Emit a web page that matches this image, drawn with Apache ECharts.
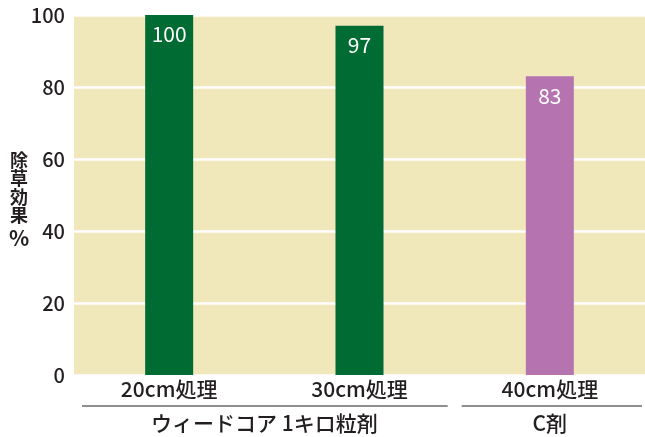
<!DOCTYPE html>
<html><head><meta charset="utf-8">
<script src="https://cdn.jsdelivr.net/npm/echarts@6/dist/echarts.min.js"></script>
<style>html,body{margin:0;padding:0;background:#fff}#c{width:645px;height:437px}</style>
</head><body><div id="c"></div>
<script>
var categories = ['20cm処理', '30cm処理', '40cm処理'];
var values = [100, 97, 83];
var barColors = ['#006B33', '#006B33', '#B574B0'];
var groups = [
  { name: 'ウィードコア 1キロ粒剤', from: 0, to: 1 },
  { name: 'C剤', from: 2, to: 2 }
];
var yTitle = ['除', '草', '効', '果', '%'];
var font = '"Noto Sans CJK JP", "Noto Sans", sans-serif';

var chart = echarts.init(document.getElementById('c'));
var option = {
  animation: false,
  grid: { left: 74, right: 0, top: 15, bottom: 62, show: true, backgroundColor: '#F0E7BB', borderWidth: 0 },
  xAxis: {
    type: 'category', data: categories,
    axisLine: { show: false }, axisTick: { show: false },
    axisLabel: { color: '#231F20', fontSize: 21, fontFamily: font, fontWeight: 500, margin: 4 }
  },
  yAxis: {
    type: 'value', min: 0, max: 100, interval: 20,
    axisLine: { show: false }, axisTick: { show: false },
    splitLine: { lineStyle: { color: '#FFFFFF', width: 2.5 } },
    axisLabel: { color: '#231F20', fontSize: 20, fontFamily: font, fontWeight: 500, margin: 9 }
  },
  series: [{
    type: 'bar', barWidth: 48,
    data: values.map(function (v, i) { return { value: v, itemStyle: { color: barColors[i] } }; }),
    label: { show: true, position: 'insideTop', distance: 9, color: '#FFFFFF', fontSize: 21, fontFamily: font }
  }]
};
chart.setOption(option);

function buildGraphics() {
  var els = [];
  var half = 190.33 / 2;
  var lineY = 406, textY = 423;
  groups.forEach(function (g, gi) {
    var x0 = chart.convertToPixel({ xAxisIndex: 0 }, categories[g.from]) - half;
    var x1 = chart.convertToPixel({ xAxisIndex: 0 }, categories[g.to]) + half;
    var lx0 = gi === 0 ? x0 + 8 : x0 + 7;
    var lx1 = gi === groups.length - 1 ? x1 - 3 : x1 - 7;
    els.push({ type: 'line', shape: { x1: lx0, y1: lineY, x2: lx1, y2: lineY }, style: { stroke: '#231F20', lineWidth: 1.2 } });
    els.push({ type: 'text', x: (x0 + x1) / 2, y: textY, style: { text: g.name, fill: '#231F20', fontSize: 21, fontWeight: 500, fontFamily: font, align: 'center', verticalAlign: 'middle' } });
  });
  var ys = [160, 178.5, 197, 215.5, 238];
  yTitle.forEach(function (ch, i) {
    els.push({ type: 'text', x: 19, y: ys[i], style: { text: ch, fill: '#231F20', fontSize: i === 4 ? 21 : 18, fontWeight: 'bold', fontFamily: font, align: 'center', verticalAlign: 'middle' } });
  });
  chart.setOption({ graphic: els });
}
buildGraphics();
</script></body></html>
